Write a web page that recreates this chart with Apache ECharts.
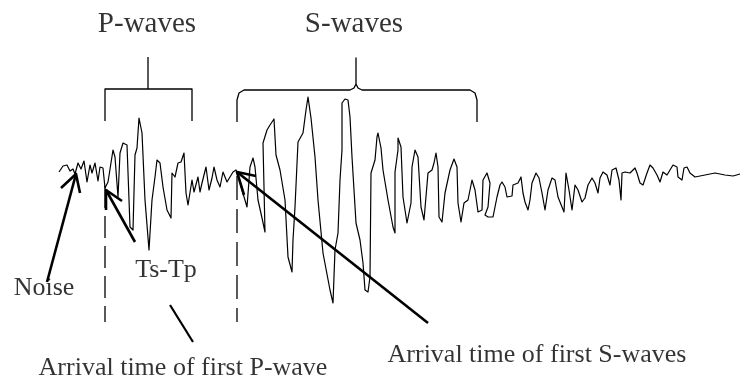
<!DOCTYPE html>
<html>
<head>
<meta charset="utf-8">
<script src="https://cdn.jsdelivr.net/npm/echarts@6/dist/echarts.min.js"></script>
<style>html,body{margin:0;padding:0;background:#fff;}#chart{width:741px;height:380px;}</style>
</head>
<body>
<div id="chart"></div>
<script>
// Seismogram trace (time units, trace level; level axis points downward)
const waveTime = [59,63,67,70,73,75,78,81,84,87,90,92,95,98,100,103,105,108,113,115,118,120,123,127,130,133,135,137,139,142,145,149,152,155,157,160,163,167,171,172,175,178,181,184,186,188,192,194,198,200,202,206,209,212,214,217,220,223,227,230,233,236,238,242,247,250,253,255,258,262,265,263,267,270,274,276,280,285,288,292,293,295,298,303,306,308,311,315,318,323,330,333,335,338,340,342,342,345,348,350,352,356,360,363,365,368,370,371,375,377,378,381,383,388,393,395,395,398,398,400,401,403,407,411,412,415,418,421,424,428,432,434,436,438,439,442,445,450,454,457,458,461,464,468,472,475,478,482,483,487,490,488,485,488,493,497,500,502,505,507,512,513,518,521,523,525,528,530,532,536,539,542,545,548,552,555,558,562,564,566,569,572,575,578,582,585,588,592,595,598,600,603,607,610,612,616,619,621,622,625,630,635,637,640,643,647,650,653,657,660,663,667,670,673,677,678,682,684,687,690,695,705,715,725,733,740];
const waveLevel = [172,166,165,171,169,174,163,169,161,182,165,173,163,181,167,168,188,182,150,157,197,153,143,145,227,230,155,148,118,133,200,250,200,177,160,163,187,210,218,173,177,163,162,153,193,205,180,192,177,192,183,167,190,178,167,180,187,172,182,177,172,170,175,190,207,167,158,167,200,218,232,143,130,125,119,155,170,200,257,272,240,207,142,133,110,97,118,157,200,253,290,303,250,233,180,150,103,99,100,117,157,223,240,263,290,292,277,173,160,137,133,148,170,200,227,233,172,150,138,138,147,197,223,203,167,150,157,207,220,173,170,163,153,167,217,222,193,170,159,167,203,222,203,200,180,190,212,210,180,173,183,207,215,217,217,197,185,182,187,197,196,185,183,177,193,202,210,200,183,173,178,193,210,190,178,180,197,207,212,173,190,210,185,190,202,198,185,178,183,193,178,172,175,185,170,168,180,200,173,172,173,168,173,183,185,173,165,168,175,182,172,175,170,165,167,177,180,168,167,173,177,175,173,175,176,174];

// Brackets
const pBracketTime  = [105,105,192,192];
const pBracketLevel = [121,89,89,121];
const pStemTime  = [148,148];
const pStemLevel = [89,57];
const sBracketTime  = [237,237,239,244,350,354,356,356,356,358,362,470,475,477,477];
const sBracketLevel = [122,100,93,90,90,88,84,58,84,88,90,90,93,100,122];

// Dashed arrival markers
const pArrivalTime = 105, sArrivalTime = 237;
const dashTop = [186,176], dashBottom = 322;

// Arrows: [tailT, tailL, tipT, tipL, barb1T, barb1L, barb2T, barb2L]
const noiseArrow = [47,282, 76,174, 61,188, 80,193];
const tsTpArrow  = [135,242, 106,190, 122,201, 106,210];
const sArrow     = [428,323, 237,172, 256,176, 244,195];
const pPointer   = [170,305, 193,342];

// Labels
const labelText  = ['P-waves','S-waves','Ts-Tp','Noise','Arrival time of first P-wave','Arrival time of first S-waves'];
const labelTime  = [147,354,166,44,183,537];
const labelLevel = [24,24,270,288,368,355];
const labelSize  = [29,29,26,26,26,26];

function zip(a,b){return a.map((v,i)=>[v,b[i]]);}
function poly(data,width,type){
  return {type:'line',data:data,showSymbol:false,symbol:'none',silent:true,clip:false,animation:false,
    lineStyle:{color:'#000',width:width,type:type||'solid',cap:'butt',join:'round'}};
}
function arrow(a){
  return [poly([[a[0],a[1]],[a[2],a[3]]],2.6),
          poly([[a[4],a[5]],[a[2],a[3]],[a[6],a[7]]],2.6)];
}

const series = [];
series.push(poly(zip(waveTime,waveLevel),1.2));
series.push(poly(zip(pBracketTime,pBracketLevel),1.3));
series.push(poly(zip(pStemTime,pStemLevel),1.3));
series.push(poly(zip(sBracketTime,sBracketLevel),1.3));
const dP = poly([[pArrivalTime,dashTop[0]],[pArrivalTime,dashBottom]],1.3,[22,8]);
const dS = poly([[sArrivalTime,dashTop[1]],[sArrivalTime,dashBottom]],1.3,[24,9]);
series.push(dP,dS);
series.push(...arrow(noiseArrow),...arrow(tsTpArrow),...arrow(sArrow));
series.push(poly([[pPointer[0],pPointer[1]],[pPointer[2],pPointer[3]]],2.2));
labelText.forEach((t,i)=>{
  series.push({type:'scatter',symbolSize:0,silent:true,animation:false,clip:false,
    data:[[labelTime[i],labelLevel[i]]],
    label:{show:true,position:'inside',formatter:t,color:'#000',fontFamily:'Liberation Serif, Times New Roman, serif',fontSize:labelSize[i],align:'center',verticalAlign:'middle'}});
});

const chart = echarts.init(document.getElementById('chart'),null,{renderer:'canvas'});
chart.setOption({
  backgroundColor:'#fff',
  animation:false,
  grid:{left:0,right:0,top:0,bottom:0},
  xAxis:{type:'value',min:0,max:741,show:false},
  yAxis:{type:'value',min:0,max:380,inverse:true,show:false},
  series:series
});
</script>
</body>
</html>
